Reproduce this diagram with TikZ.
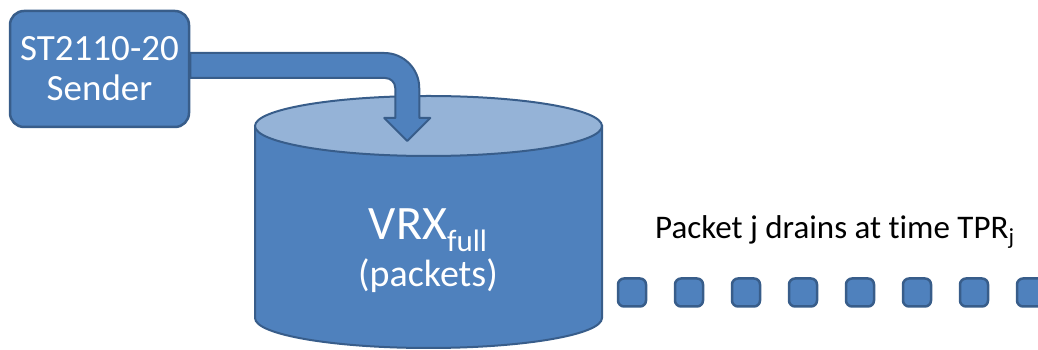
\documentclass[tikz,border=0pt]{standalone}
\usepackage{fontspec}
\setmainfont{Carlito}[Ligatures=NoCommon]
\usepackage{tikz}
\usetikzlibrary{positioning}
\definecolor{boxblue}{HTML}{4F81BD}
\definecolor{lidblue}{HTML}{95B3D7}
\definecolor{edgeblue}{HTML}{385D8A}
\newcommand{\lowsub}[3]{{\fontsize{#1}{#1}\selectfont\raisebox{-#2pt}{#3}}}

\begin{document}
\begin{tikzpicture}[x=1pt,y=1pt]

\useasboundingbox (0,0) rectangle (1038,350);
\def\pw{57}
\tikzstyle{sender} = [
	draw=edgeblue, fill=boxblue, line width=2.5pt, rounded corners=14pt,
	minimum width=179pt, minimum height=116pt, text=white, align=center,
	font=\fontsize{37}{40}\selectfont ];
\tikzstyle{pkt} = [
	draw=edgeblue, fill=boxblue, line width=2.5pt, rounded corners=6pt,
	minimum size=28pt, inner sep=0pt ];
\tikzstyle{vol} = [draw=edgeblue, line width=2pt];

% the buffer
\draw[vol,fill=boxblue] (255,224) -- (255,32)
	arc[start angle=180, end angle=360, x radius=173.5, y radius=30] -- (602,224) -- cycle;
\draw[vol,fill=lidblue] (428.5,224) ellipse [x radius=173.5, y radius=30];

\node[sender] (send) at (99.5,281) {ST2110-20\\Sender};

% bent block arrow into the buffer
\draw[vol,fill=boxblue,line join=round] ([yshift=16pt]send.east) -- ++(194,0)
	arc[start angle=90, end angle=0, radius=35] -- ++(0,-30) -- ++(11,0)
	-- ++(-23,-23) -- ++(-23,23) -- ++(11,0) -- ++(0,30)
	arc[start angle=0, end angle=90, radius=10] -- ([yshift=-9pt]send.east) -- cycle;

\node[anchor=base, inner sep=0pt, text=white, font=\fontsize{48}{50}\selectfont]
	(vrx) at (428,110) {VRX\lowsub{31}{12}{full}};
\node[anchor=base, inner sep=0pt, text=white, font=\fontsize{38}{40}\selectfont]
	(pkts) at (428,63) {(packets)};

\node[anchor=base west, inner sep=0pt, font=\fontsize{33}{35}\selectfont]
	(drain) at (655,111) {Packet j drains at t\kern0pt ime TPR\lowsub{23}{6}{j}};

\foreach \i in {0,...,7}
	\node[pkt] (p\i) at (632+\i*\pw,57.5) {};

\end{tikzpicture}
\end{document}
